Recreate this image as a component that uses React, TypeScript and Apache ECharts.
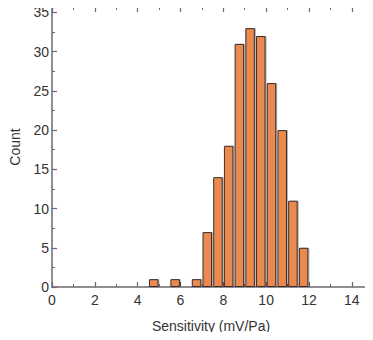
import React, { useEffect, useRef } from "react";
import * as echarts from "echarts";

const binCenters = [4.75, 5.75, 6.75, 7.25, 7.75, 8.25, 8.75, 9.25, 9.75, 10.25, 10.75, 11.25, 11.75];
const counts = [1, 1, 1, 7, 14, 18, 31, 33, 32, 26, 20, 11, 5];
const xLabel = "Sensitivity (mV/Pa)";
const yLabel = "Count";

const axisColor = "#6e6870";
const textColor = "#333";

export default function App() {
  const ref = useRef<HTMLDivElement>(null);
  useEffect(() => {
    if (!ref.current) return;
    const chart = echarts.init(ref.current, null, { renderer: "svg" });
    const fontFamily = "'Liberation Sans', Arial, sans-serif";
    const intLabel = (step: number) => (v: number) =>
      Math.abs(v / step - Math.round(v / step)) < 1e-6 ? String(Math.round(v)) : "";
    const xCommon = {
      type: "value" as const,
      min: 0,
      max: 14.85,
      interval: 2,
      splitLine: { show: false },
      axisLine: { show: true, onZero: false, lineStyle: { color: axisColor, width: 1.5 } },
      minorTick: { show: true, splitNumber: 2, length: 3, lineStyle: { color: axisColor, width: 1 } },
      minorSplitLine: { show: false },
    };
    const yCommon = {
      type: "value" as const,
      min: 0,
      max: 35.7,
      interval: 5,
      splitLine: { show: false },
      axisLine: { show: true, onZero: false, lineStyle: { color: axisColor, width: 1.5 } },
    };
    chart.setOption({
      animation: false,
      grid: { left: 51, right: 1, top: 7, bottom: 53, containLabel: false },
      xAxis: [
        {
          ...xCommon,
          position: "bottom",
          axisTick: { show: true, inside: true, length: 5, lineStyle: { color: axisColor, width: 1.2 } },
          minorTick: { show: true, splitNumber: 2, length: 3, lineStyle: { color: axisColor, width: 1 } },
          axisLabel: {
            color: textColor,
            fontSize: 14,
            fontFamily,
            margin: 6,
            formatter: intLabel(2),
          },
          name: xLabel,
          nameLocation: "middle",
          nameGap: 32,
          nameTextStyle: { color: textColor, fontSize: 14, fontFamily },
        },
        {
          ...xCommon,
          position: "top",
          axisTick: { show: true, inside: true, length: 5, lineStyle: { color: axisColor, width: 1.2 } },
          axisLabel: { show: false },
        },
      ],
      yAxis: [
        {
          ...yCommon,
          position: "left",
          axisTick: { show: true, inside: true, length: 5, lineStyle: { color: axisColor, width: 1.2 } },
          minorTick: { show: true, splitNumber: 2, length: 3, lineStyle: { color: axisColor, width: 1 } },
          minorSplitLine: { show: false },
          axisLabel: {
            color: textColor,
            fontSize: 14,
            fontFamily,
            margin: 3,
            formatter: intLabel(5),
          },
          name: yLabel,
          nameLocation: "middle",
          nameGap: 30,
          nameTextStyle: { color: textColor, fontSize: 14, fontFamily },
        },
        {
          ...yCommon,
          position: "right",
          axisTick: { show: true, inside: true, length: 4, lineStyle: { color: axisColor, width: 1.2 } },
          axisLabel: { show: false },
        },
      ],
      series: [
        {
          type: "bar",
          xAxisIndex: 0,
          yAxisIndex: 0,
          barWidth: 9.5,
          data: binCenters.map((c, i) => [c, counts[i]]),
          itemStyle: {
            color: "#EB8A4F",
            borderColor: "#3a2c2c",
            borderWidth: 1,
            shadowColor: "rgba(0,0,0,0.3)",
            shadowBlur: 1,
            shadowOffsetX: 1,
            shadowOffsetY: 0,
          },
        },
      ],
    });
    return () => chart.dispose();
  }, []);
  return <div ref={ref} style={{ width: 373, height: 340, margin: -8 }} />;
}
